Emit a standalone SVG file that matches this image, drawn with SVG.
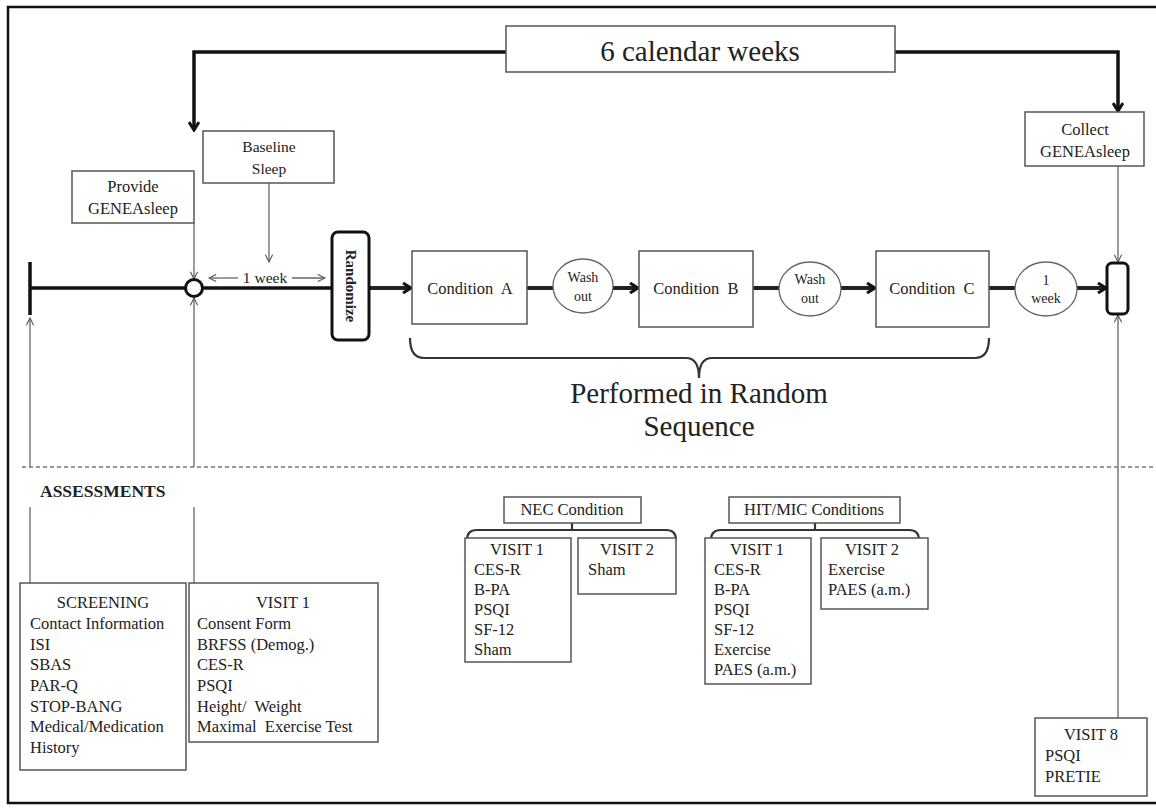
<svg xmlns="http://www.w3.org/2000/svg" width="1156" height="811" viewBox="0 0 1156 811">
<style>
text{font-family:"Liberation Serif","Times New Roman",serif;fill:#222}
.box{fill:#fff;stroke:#555;stroke-width:1.5}
.t{font-size:16.5px}
.s{font-size:15.5px}
.w{font-size:14px}
.c{text-anchor:middle}
.thick{fill:none;stroke:#111;stroke-width:3.5}
.link{fill:none;stroke:#222;stroke-width:4}
.thin{fill:none;stroke:#666;stroke-width:1.3}
.ell{fill:#fff;stroke:#666;stroke-width:1.3}
.brace{fill:none;stroke:#333;stroke-width:2.2}
.dash{fill:none;stroke:#777;stroke-width:1.5;stroke-dasharray:4 3}
</style>
<defs>
<marker id="ah" viewBox="0 0 12 12" refX="10" refY="6" markerWidth="12" markerHeight="12" markerUnits="userSpaceOnUse" orient="auto">
<path d="M2,1 L10,6 L2,11" fill="none" stroke="#111" stroke-width="3"/>
</marker>
<marker id="ta" viewBox="0 0 10 10" refX="9" refY="5" markerWidth="9" markerHeight="9" markerUnits="userSpaceOnUse" orient="auto-start-reverse">
<path d="M1,1 L9,5 L1,9" fill="none" stroke="#555" stroke-width="1.2"/>
</marker>
</defs>
<rect x="0" y="0" width="1156" height="811" fill="#fff"/>
<rect x="8" y="7" width="1160" height="796" fill="none" stroke="#111" stroke-width="2.5"/>

<g id="connectors">
<path class="thick" d="M506,52 H194 V130" marker-end="url(#ah)"/>
<path class="thick" d="M895,52 H1118 V111" marker-end="url(#ah)"/>
<path class="thick" d="M30,262 V315"/>
<path class="thick" d="M30,288 H332"/>
<path class="link" d="M369,288 H411" marker-end="url(#ah)"/>
<path class="link" d="M527,288 H553"/>
<path class="link" d="M613,288 H638" marker-end="url(#ah)"/>
<path class="link" d="M753,288 H779"/>
<path class="link" d="M841,288 H875" marker-end="url(#ah)"/>
<path class="link" d="M989,288 H1015"/>
<path class="link" d="M1077,288 H1106" marker-end="url(#ah)"/>
<path class="thin" d="M194,223 V279" marker-end="url(#ta)"/>
<path class="thin" d="M269,183 V262" marker-end="url(#ta)"/>
<path class="thin" d="M238,278 H209" marker-end="url(#ta)"/>
<path class="thin" d="M292,278 H325" marker-end="url(#ta)"/>
<path class="thin" d="M30,467 V318" marker-end="url(#ta)"/>
<path class="thin" d="M30,583 V507"/>
<path class="thin" d="M194,467 V298" marker-end="url(#ta)"/>
<path class="thin" d="M194,583 V507"/>
<path class="thin" d="M1118,166 V262" marker-end="url(#ta)"/>
<path class="thin" d="M1118,718 V315" marker-end="url(#ta)"/>
<path class="dash" d="M22,467 H1156"/>
<path class="brace" d="M410,338 Q410,358 424,358 H686 Q699,358 699,378 Q699,358 712,358 H975 Q989,358 989,338"/>
<path class="brace" d="M467,540 Q467,530 477,530 H666 Q676,530 676,540 M572,530 V523"/>
<path class="brace" d="M711,540 Q711,530 721,530 H909 Q919,530 919,540 M815,530 V523"/>
</g>

<g id="weeks6">
<rect class="box" x="506" y="26" width="389" height="46"/>
<text class="c" x="700" y="61" font-size="29">6 calendar weeks</text>
</g>
<g id="baseline">
<rect class="box" x="203" y="131" width="131" height="52"/>
<text class="c s" x="269" y="152">Baseline</text>
<text class="c s" x="269" y="174">Sleep</text>
</g>
<g id="provide">
<rect class="box" x="72" y="171" width="122" height="52"/>
<text class="c t" x="133" y="192">Provide</text>
<text class="c t" x="133" y="214">GENEAsleep</text>
</g>
<g id="collect">
<rect class="box" x="1025" y="112" width="119" height="54"/>
<text class="c t" x="1085" y="135">Collect</text>
<text class="c t" x="1085" y="157">GENEAsleep</text>
</g>
<g id="oneweek-label">
<text class="c s" x="265" y="283">1 week</text>
</g>
<g id="start-circle">
<circle cx="194" cy="288" r="8.5" fill="#fff" stroke="#111" stroke-width="3"/>
</g>
<g id="randomize">
<rect x="332" y="232" width="37" height="108" rx="6" fill="#fff" stroke="#111" stroke-width="3"/>
<text class="c" x="350.5" y="291" font-size="15" font-weight="bold" transform="rotate(90 350.5 286)">Randomize</text>
</g>
<g id="condA">
<rect class="box" x="412" y="251" width="115" height="73"/>
<text class="c t" x="470" y="294" xml:space="preserve">Condition  A</text>
</g>
<g id="wash1">
<ellipse class="ell" cx="583" cy="286" rx="30" ry="27"/>
<text class="c w" x="583" y="282">Wash</text>
<text class="c w" x="583" y="301">out</text>
</g>
<g id="condB">
<rect class="box" x="639" y="251" width="114" height="76"/>
<text class="c t" x="696" y="294" xml:space="preserve">Condition  B</text>
</g>
<g id="wash2">
<ellipse class="ell" cx="810" cy="289" rx="31" ry="27"/>
<text class="c w" x="810" y="284">Wash</text>
<text class="c w" x="810" y="303">out</text>
</g>
<g id="condC">
<rect class="box" x="876" y="251" width="113" height="76"/>
<text class="c t" x="932" y="294" xml:space="preserve">Condition  C</text>
</g>
<g id="week1">
<ellipse class="ell" cx="1046" cy="289" rx="31" ry="27"/>
<text class="c w" x="1046" y="285">1</text>
<text class="c w" x="1046" y="303">week</text>
</g>
<g id="end-marker">
<rect x="1107" y="263" width="21" height="51" rx="5" fill="#fff" stroke="#111" stroke-width="3"/>
</g>
<g id="performed">
<text class="c" x="699" y="403" font-size="29">Performed in Random</text>
<text class="c" x="699" y="436" font-size="29">Sequence</text>
</g>
<g id="assessments">
<text x="40" y="497" font-size="17.5" font-weight="bold">ASSESSMENTS</text>
</g>
<g id="screening">
<rect class="box" x="20" y="583" width="166" height="187"/>
<text class="c t" x="103" y="608">SCREENING</text>
<text class="t" x="30" y="629">Contact Information</text>
<text class="t" x="30" y="650">ISI</text>
<text class="t" x="30" y="670">SBAS</text>
<text class="t" x="30" y="691">PAR-Q</text>
<text class="t" x="30" y="712">STOP-BANG</text>
<text class="t" x="30" y="732">Medical/Medication</text>
<text class="t" x="30" y="753">History</text>
</g>
<g id="visit1">
<rect class="box" x="189" y="583" width="189" height="159"/>
<text class="c t" x="283" y="608">VISIT 1</text>
<text class="t" x="197" y="629">Consent Form</text>
<text class="t" x="197" y="650">BRFSS (Demog.)</text>
<text class="t" x="197" y="670">CES-R</text>
<text class="t" x="197" y="691">PSQI</text>
<text class="t" x="197" y="712" xml:space="preserve">Height/  Weight</text>
<text class="t" x="197" y="732" xml:space="preserve">Maximal  Exercise Test</text>
</g>
<g id="nec">
<rect class="box" x="504" y="497" width="137" height="26"/>
<text class="c t" x="572" y="515">NEC Condition</text>
</g>
<g id="nec-v1">
<rect class="box" x="465" y="538" width="106" height="124"/>
<text class="c t" x="517" y="555">VISIT 1</text>
<text class="t" x="474" y="575">CES-R</text>
<text class="t" x="474" y="595">B-PA</text>
<text class="t" x="474" y="615">PSQI</text>
<text class="t" x="474" y="635">SF-12</text>
<text class="t" x="474" y="655">Sham</text>
</g>
<g id="nec-v2">
<rect class="box" x="578" y="538" width="98" height="56"/>
<text class="c t" x="627" y="555">VISIT 2</text>
<text class="t" x="588" y="575">Sham</text>
</g>
<g id="hit">
<rect class="box" x="729" y="497" width="171" height="26"/>
<text class="c t" x="814" y="515">HIT/MIC Conditions</text>
</g>
<g id="hit-v1">
<rect class="box" x="705" y="538" width="106" height="146"/>
<text class="c t" x="757" y="555">VISIT 1</text>
<text class="t" x="714" y="575">CES-R</text>
<text class="t" x="714" y="595">B-PA</text>
<text class="t" x="714" y="615">PSQI</text>
<text class="t" x="714" y="635">SF-12</text>
<text class="t" x="714" y="655">Exercise</text>
<text class="t" x="714" y="675">PAES (a.m.)</text>
</g>
<g id="hit-v2">
<rect class="box" x="821" y="538" width="107" height="71"/>
<text class="c t" x="872" y="555">VISIT 2</text>
<text class="t" x="828" y="575">Exercise</text>
<text class="t" x="828" y="595">PAES (a.m.)</text>
</g>
<g id="visit8">
<rect class="box" x="1035" y="718" width="112" height="78"/>
<text class="c t" x="1091" y="740">VISIT 8</text>
<text class="t" x="1045" y="761">PSQI</text>
<text class="t" x="1045" y="782">PRETIE</text>
</g>
</svg>
